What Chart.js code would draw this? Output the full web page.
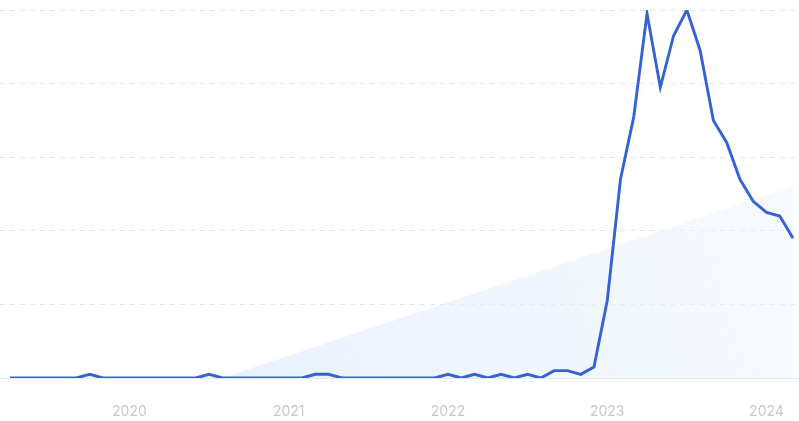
<!DOCTYPE html>
<html>
<head>
<meta charset="utf-8">
<script src="https://cdn.jsdelivr.net/npm/chart.js@4"></script>
<style>
  html, body { margin: 0; padding: 0; background: #ffffff; }
  #wrap { width: 799px; height: 421px; position: relative; }
</style>
</head>
<body>
<div id="wrap"><canvas id="c"></canvas></div>
<script>
// Monthly points, 2019-04 .. 2024-03
const months = [
  "2019-04","2019-05","2019-06","2019-07","2019-08","2019-09","2019-10","2019-11","2019-12",
  "2020-01","2020-02","2020-03","2020-04","2020-05","2020-06","2020-07","2020-08","2020-09","2020-10","2020-11","2020-12",
  "2021-01","2021-02","2021-03","2021-04","2021-05","2021-06","2021-07","2021-08","2021-09","2021-10","2021-11","2021-12",
  "2022-01","2022-02","2022-03","2022-04","2022-05","2022-06","2022-07","2022-08","2022-09","2022-10","2022-11","2022-12",
  "2023-01","2023-02","2023-03","2023-04","2023-05","2023-06","2023-07","2023-08","2023-09","2023-10","2023-11","2023-12",
  "2024-01","2024-02","2024-03"
];
const interest = [
  0,0,0,0,0,0,1,0,0,
  0,0,0,0,0,0,1,0,0,0,0,0,
  0,0,1,1,0,0,0,0,0,0,0,0,
  1,0,1,0,1,0,1,0,2,2,1,3,
  21,54,71,99,79,93,100,89,70,64,54,48,
  45,44,38
];
// light trend wedge: start and end values
const trendStartMonth = "2020-08";
const trendStartValue = 0;
const trendEndMonth = "2024-03";
const trendEndValue = 52;
const yearLabels = ["2020","2021","2022","2023","2024"];
const yearMonths = ["2020-01","2021-01","2022-01","2023-01","2024-01"];

const mainPoints = interest.map((v, i) => ({ x: i, y: v }));
const trendPoints = [
  { x: months.indexOf(trendStartMonth), y: trendStartValue },
  { x: months.indexOf(trendEndMonth), y: trendEndValue }
];
const yearTickPos = yearMonths.map(m => months.indexOf(m));

const ctx = document.getElementById('c').getContext('2d');
new Chart(ctx, {
  type: 'line',
  data: {
    datasets: [
      {
        label: 'Interest',
        data: mainPoints,
        borderColor: '#3563d3',
        borderWidth: 2.9,
        pointRadius: 0,
        tension: 0,
        fill: false,
        order: 0
      },
      {
        label: 'Trend',
        data: trendPoints,
        borderColor: 'rgba(0,0,0,0)',
        borderWidth: 0,
        pointRadius: 0,
        fill: 'origin',
        backgroundColor: function(context) {
          const chart = context.chart;
          const a = chart.chartArea;
          if (!a) return 'rgba(225,236,252,0.6)';
          const g = chart.ctx.createLinearGradient(a.left + 250, a.bottom, a.right, a.top + 180);
          g.addColorStop(0, 'rgba(224,236,252,0.7)');
          g.addColorStop(1, 'rgba(238,245,254,0.5)');
          return g;
        },
        order: 1
      }
    ]
  },
  options: {
    responsive: true,
    maintainAspectRatio: false,
    animation: false,
    layout: { padding: { top: 10, left: 0, right: 0, bottom: 0 } },
    plugins: { legend: { display: false }, tooltip: { enabled: false } },
    scales: {
      x: {
        type: 'linear',
        min: -0.754,
        max: 59.45,
        afterBuildTicks: (axis) => { axis.ticks = yearTickPos.map(v => ({ value: v })); },
        afterFit: (s) => { s.height = 43; s.paddingLeft = 0; s.paddingRight = 0; },
        ticks: {
          autoSkip: false,
          maxRotation: 0,
          padding: 25,
          color: '#c6c8cc',
          font: { family: 'Inter', size: 14 },
          callback: (v) => {
            const k = yearTickPos.indexOf(v);
            return k >= 0 ? yearLabels[k] : '';
          }
        },
        grid: { display: false, drawTicks: false },
        border: { display: true, color: '#e3e8ef', width: 1 }
      },
      y: {
        min: 0,
        max: 100,
        afterFit: (s) => { s.width = 0; s.paddingTop = 0; s.paddingBottom = 0; },
        ticks: { display: false, stepSize: 20 },
        grid: { color: '#dfe5ec', lineWidth: 1, drawTicks: false, tickLength: 0 },
        border: { display: false, dash: [5, 5] }
      }
    }
  }
});
</script>
</body>
</html>
